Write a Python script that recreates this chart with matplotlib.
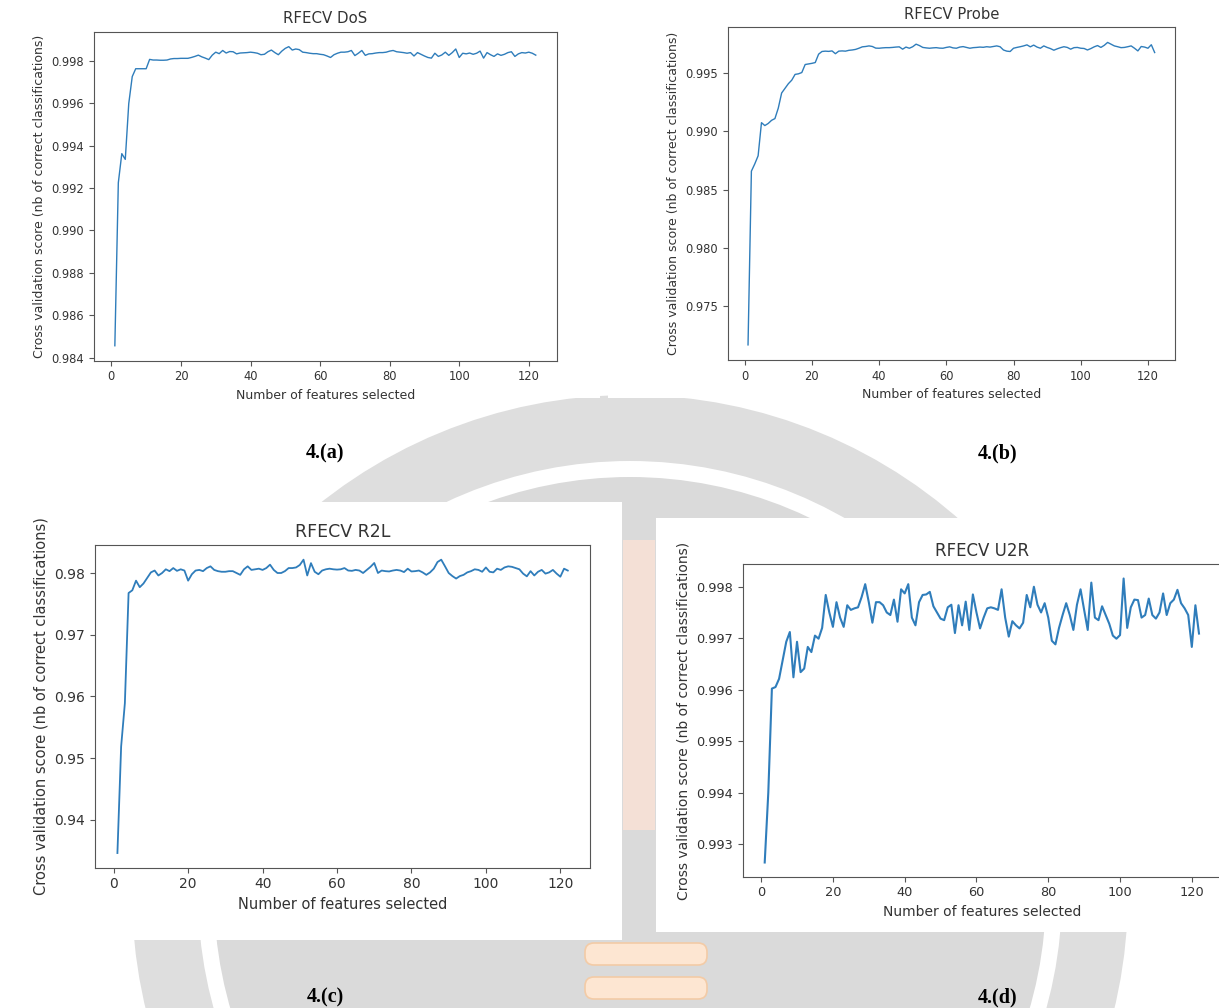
import matplotlib
matplotlib.use("Agg")
import matplotlib.pyplot as plt
from matplotlib.patches import Circle, Rectangle, FancyBboxPatch
from matplotlib.ticker import MultipleLocator

# ---------- data ----------
n_features = list(range(1, 123))

dos_scores = [
    0.98457, 0.99225, 0.99362, 0.99335, 0.99598, 0.99725, 0.99762, 0.99762, 0.99762, 0.99762,
    0.99806, 0.99803, 0.99803, 0.99802, 0.99802, 0.99803, 0.99808, 0.99810, 0.99810, 0.99811,
    0.99811, 0.99811, 0.99815, 0.99820, 0.99826, 0.99818, 0.99812, 0.99805, 0.99826, 0.99840,
    0.99833, 0.99848, 0.99836, 0.99843, 0.99842, 0.99832, 0.99836, 0.99837, 0.99838, 0.99840,
    0.99838, 0.99835, 0.99828, 0.99830, 0.99842, 0.99850, 0.99838, 0.99828, 0.99845, 0.99858,
    0.99866, 0.99850, 0.99855, 0.99852, 0.99840, 0.99838, 0.99835, 0.99833, 0.99833, 0.99830,
    0.99828, 0.99822, 0.99815, 0.99828, 0.99835, 0.99840, 0.99840, 0.99842, 0.99848, 0.99824,
    0.99835, 0.99848, 0.99825, 0.99832, 0.99833, 0.99836, 0.99838, 0.99838, 0.99840, 0.99845,
    0.99848, 0.99842, 0.99840, 0.99838, 0.99835, 0.99838, 0.99822, 0.99838, 0.99830, 0.99822,
    0.99815, 0.99812, 0.99835, 0.99820, 0.99827, 0.99840, 0.99825, 0.99838, 0.99855, 0.99815,
    0.99835, 0.99832, 0.99836, 0.99830, 0.99835, 0.99845, 0.99812, 0.99838, 0.99828, 0.99820,
    0.99832, 0.99825, 0.99830, 0.99838, 0.99842, 0.99820, 0.99832, 0.99838, 0.99836, 0.99840,
    0.99835, 0.99826,
]

probe_scores = [
    0.97164, 0.98658, 0.98720, 0.98790, 0.99075, 0.99050, 0.99068, 0.99095, 0.99110, 0.99200,
    0.99330, 0.99370, 0.99410, 0.99440, 0.99490, 0.99495, 0.99506, 0.99575, 0.99580, 0.99585,
    0.99592, 0.99664, 0.99687, 0.99690, 0.99688, 0.99692, 0.99668, 0.99690, 0.99692, 0.99690,
    0.99697, 0.99700, 0.99705, 0.99715, 0.99727, 0.99730, 0.99735, 0.99730, 0.99716, 0.99715,
    0.99718, 0.99720, 0.99720, 0.99722, 0.99725, 0.99727, 0.99707, 0.99725, 0.99715, 0.99728,
    0.99750, 0.99738, 0.99722, 0.99718, 0.99715, 0.99718, 0.99720, 0.99716, 0.99715, 0.99722,
    0.99727, 0.99718, 0.99715, 0.99725, 0.99729, 0.99722, 0.99715, 0.99720, 0.99722, 0.99725,
    0.99723, 0.99728, 0.99725, 0.99730, 0.99735, 0.99728, 0.99700, 0.99690, 0.99687, 0.99715,
    0.99722, 0.99728, 0.99735, 0.99744, 0.99727, 0.99742, 0.99725, 0.99715, 0.99735, 0.99722,
    0.99712, 0.99698, 0.99710, 0.99720, 0.99728, 0.99722, 0.99707, 0.99720, 0.99722, 0.99715,
    0.99713, 0.99700, 0.99712, 0.99727, 0.99738, 0.99722, 0.99740, 0.99765, 0.99750, 0.99735,
    0.99728, 0.99720, 0.99722, 0.99728, 0.99735, 0.99715, 0.99692, 0.99730, 0.99725, 0.99715,
    0.99745, 0.99678,
]

r2l_scores = [
    0.93464, 0.95190, 0.95890, 0.97676, 0.97720, 0.97876, 0.97770, 0.97830, 0.97920, 0.98010,
    0.98040, 0.97960, 0.98000, 0.98060, 0.98030, 0.98080, 0.98035, 0.98060, 0.98040, 0.97876,
    0.97980, 0.98040, 0.98050, 0.98030, 0.98080, 0.98108, 0.98050, 0.98030, 0.98020, 0.98020,
    0.98030, 0.98030, 0.98000, 0.97970, 0.98060, 0.98108, 0.98050, 0.98060, 0.98070, 0.98050,
    0.98080, 0.98135, 0.98050, 0.98000, 0.98000, 0.98030, 0.98080, 0.98080, 0.98090, 0.98130,
    0.98216, 0.97960, 0.98160, 0.98020, 0.97980, 0.98040, 0.98060, 0.98070, 0.98060, 0.98055,
    0.98060, 0.98080, 0.98040, 0.98035, 0.98050, 0.98040, 0.98000, 0.98050, 0.98100, 0.98162,
    0.98000, 0.98040, 0.98030, 0.98025, 0.98040, 0.98050, 0.98040, 0.98015, 0.98070, 0.98025,
    0.98030, 0.98040, 0.98010, 0.97970, 0.98010, 0.98070, 0.98178, 0.98216, 0.98110, 0.98000,
    0.97950, 0.97910, 0.97950, 0.97970, 0.98010, 0.98030, 0.98060, 0.98050, 0.98020, 0.98090,
    0.98020, 0.98010, 0.98070, 0.98050, 0.98090, 0.98108, 0.98100, 0.98080, 0.98060, 0.97990,
    0.97946, 0.98030, 0.97960, 0.98020, 0.98050, 0.97990, 0.98010, 0.98050, 0.97990, 0.97940,
    0.98070, 0.98040,
]

u2r_scores = [
    0.99264, 0.99400, 0.99602, 0.99605, 0.99621, 0.99657, 0.99693, 0.99712, 0.99624, 0.99693,
    0.99634, 0.99641, 0.99683, 0.99673, 0.99705, 0.99699, 0.99720, 0.99784, 0.99750, 0.99722,
    0.99770, 0.99740, 0.99722, 0.99764, 0.99755, 0.99758, 0.99760, 0.99780, 0.99805, 0.99770,
    0.99730, 0.99770, 0.99770, 0.99764, 0.99750, 0.99745, 0.99775, 0.99732, 0.99795, 0.99787,
    0.99805, 0.99740, 0.99725, 0.99770, 0.99784, 0.99785, 0.99790, 0.99762, 0.99750, 0.99738,
    0.99735, 0.99760, 0.99765, 0.99710, 0.99764, 0.99725, 0.99771, 0.99716, 0.99785, 0.99750,
    0.99719, 0.99740, 0.99758, 0.99760, 0.99758, 0.99755, 0.99795, 0.99740, 0.99703, 0.99733,
    0.99725, 0.99719, 0.99730, 0.99784, 0.99760, 0.99800, 0.99765, 0.99750, 0.99768, 0.99740,
    0.99695, 0.99688, 0.99720, 0.99745, 0.99768, 0.99745, 0.99716, 0.99765, 0.99795, 0.99755,
    0.99716, 0.99808, 0.99740, 0.99735, 0.99762, 0.99745, 0.99728, 0.99705, 0.99699, 0.99706,
    0.99816, 0.99720, 0.99760, 0.99775, 0.99774, 0.99740, 0.99745, 0.99777, 0.99745, 0.99738,
    0.99750, 0.99787, 0.99745, 0.99768, 0.99775, 0.99794, 0.99768, 0.99758, 0.99745, 0.99683,
    0.99764, 0.99709,
]

panel_titles = ["RFECV DoS", "RFECV Probe", "RFECV R2L", "RFECV U2R"]
panel_captions = ["4.(a)", "4.(b)", "4.(c)", "4.(d)"]
x_label = "Number of features selected"
y_label = "Cross validation score (nb of correct classifications)"

W, H = 1219, 1008
fig = plt.figure(figsize=(W / 100, H / 100), dpi=100)
fig.patch.set_facecolor("white")

# ---------- background: faded seal watermark + white panel boxes ----------
bg = fig.add_axes([0, 0, 1, 1], zorder=0)
bg.set_xlim(0, W)
bg.set_ylim(H, 0)
bg.axis("off")

bg.add_patch(Circle((630, 893), 498, color="#dedede", lw=0))
bg.add_patch(Circle((630, 893), 432, color="white", lw=0))
bg.add_patch(Circle((630, 893), 416, color="#dadada", lw=0))
bg.add_patch(Rectangle((623, 540), 32, 290, color="#f4e0d6", lw=0))
for top in (943, 977):
    bg.add_patch(FancyBboxPatch((585, top), 122, 22,
                                boxstyle="round,pad=0,rounding_size=9",
                                fc="#fde6d2", ec="#f3cba6", lw=1.2))

bg.add_patch(Rectangle((0, 0), 600, 398, color="white", lw=0))
bg.add_patch(Rectangle((608, 0), 611, 398, color="white", lw=0))
bg.add_patch(Rectangle((0, 502), 622, 438, color="white", lw=0))
bg.add_patch(Rectangle((656, 518), 563, 414, color="white", lw=0))

caption_pos = [(325, 453), (998, 453), (325, 997), (998, 997)]
for (cx, cy), cap in zip(caption_pos, panel_captions):
    bg.text(cx, cy, cap, ha="center", va="center", fontsize=14.5,
            fontweight="bold", family="Liberation Serif", color="black")


# ---------- one RFECV panel ----------
def draw_panel(box, scores, title, ystep, fs_tick, fs_label, fs_title, lw):
    left, top, right, bottom = box
    ax = fig.add_axes([left / W, 1 - bottom / H, (right - left) / W, (bottom - top) / H],
                      zorder=2)
    ax.plot(n_features, scores, color="#2f7dbb", lw=lw)
    ax.xaxis.set_major_locator(MultipleLocator(20))
    ax.yaxis.set_major_locator(MultipleLocator(ystep))
    ax.set_title(title, fontsize=fs_title, color="#333333")
    ax.set_xlabel(x_label, fontsize=fs_label, color="#333333")
    ax.set_ylabel(y_label, fontsize=fs_label, color="#333333")
    ax.tick_params(labelsize=fs_tick, colors="#555555", labelcolor="#333333")
    for sp in ax.spines.values():
        sp.set_color("#555555")
    return ax


draw_panel((93.8, 31.7, 556.8, 360.7), dos_scores, panel_titles[0], 0.002, 8.3, 9, 10.8, 1.0)
draw_panel((727.7, 27.3, 1175, 360), probe_scores, panel_titles[1], 0.005, 8.3, 9, 10.6, 1.0)
draw_panel((94.9, 545, 590.3, 867.7), r2l_scores, panel_titles[2], 0.01, 10, 10.5, 12.5, 1.3)
draw_panel((743, 564.3, 1220.7, 876.7), u2r_scores, panel_titles[3], 0.001, 9.3, 10, 12, 1.5)

fig.savefig("out.png", dpi=100)
plt.close(fig)
